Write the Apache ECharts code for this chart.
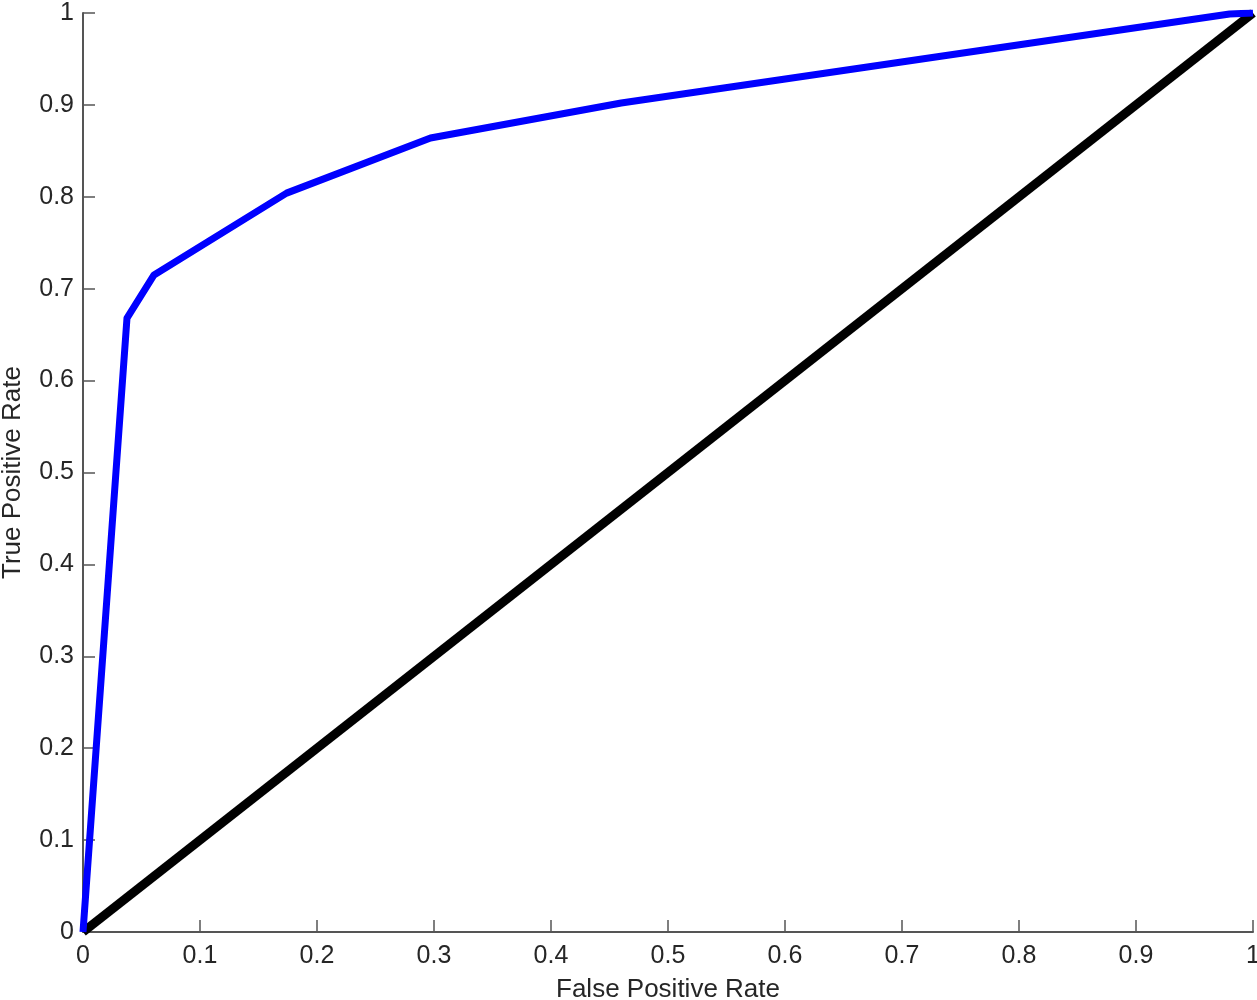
<!DOCTYPE html>
<html>
<head>
<meta charset="utf-8">
<script src="https://cdn.jsdelivr.net/npm/echarts@6/dist/echarts.min.js"></script>
<style>
  html, body { margin: 0; padding: 0; background: #fff; }
  #chart { width: 1257px; height: 1000px; }
</style>
</head>
<body>
<div id="chart"></div>
<script>
  // ROC curve
  const rocFpr = [0, 0.0376, 0.0607, 0.174, 0.297, 0.46, 0.98, 1];
  const rocTpr = [0, 0.668, 0.715, 0.804, 0.864, 0.902, 0.999, 1];
  // chance diagonal
  const diagFpr = [0, 1];
  const diagTpr = [0, 1];

  const zip = (xs, ys) => xs.map((x, i) => [x, ys[i]]);

  const axisCommon = {
    type: 'value',
    min: 0,
    max: 1,
    interval: 0.1,
    nameLocation: 'middle',
    nameTextStyle: { fontFamily: 'Liberation Sans', fontSize: 26, color: '#262626' },
    axisLine: { show: true, lineStyle: { color: '#555', width: 2 } },
    axisTick: { show: true, inside: true, length: 12, lineStyle: { color: '#555', width: 1.5 } },
    axisLabel: {
      fontFamily: 'Liberation Sans',
      fontSize: 25,
      color: '#262626',
      formatter: v => (v === 0 || v === 1) ? String(v) : v.toFixed(1)
    },
    splitLine: { show: false }
  };

  const option = {
    animation: false,
    backgroundColor: '#fff',
    grid: { left: 83, right: 4, top: 13, bottom: 68, outerBoundsMode: 'none' },
    xAxis: Object.assign({}, axisCommon, {
      name: 'False Positive Rate',
      nameGap: 45,
      axisLabel: Object.assign({}, axisCommon.axisLabel, { margin: 12 })
    }),
    yAxis: Object.assign({}, axisCommon, {
      name: 'True Positive Rate',
      nameGap: 57,
      axisLabel: Object.assign({}, axisCommon.axisLabel, { margin: 9 })
    }),
    series: [
      {
        name: 'diagonal',
        type: 'line',
        data: zip(diagFpr, diagTpr),
        showSymbol: false,
        lineStyle: { color: '#000', width: 9 },
        z: 2
      },
      {
        name: 'ROC',
        type: 'line',
        data: zip(rocFpr, rocTpr),
        showSymbol: false,
        lineStyle: { color: '#0000ff', width: 7, join: 'round' },
        z: 3
      }
    ]
  };

  echarts.init(document.getElementById('chart')).setOption(option);
</script>
</body>
</html>
